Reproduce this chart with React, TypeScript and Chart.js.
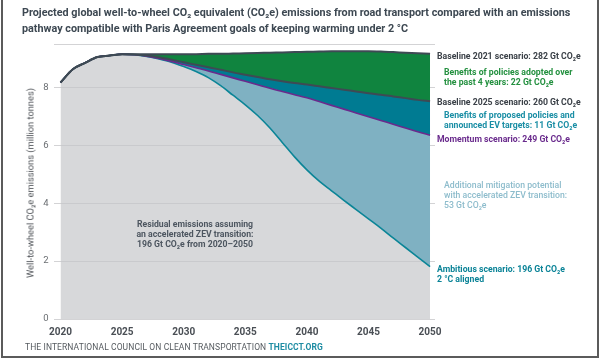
import React, { useEffect, useRef } from "react";
import { Chart, registerables } from "chart.js";

Chart.register(...registerables);

const years = [
  2020, 2021, 2022, 2023, 2024, 2025, 2026, 2027, 2028, 2029, 2030, 2031, 2032, 2033, 2034, 2035,
  2036, 2037, 2038, 2039, 2040, 2041, 2042, 2043, 2044, 2045, 2046, 2047, 2048, 2049, 2050,
];

const baseline2021 = [
  8.17, 8.63, 8.85, 9.05, 9.1, 9.15, 9.15, 9.15, 9.15, 9.15, 9.15, 9.15, 9.16, 9.16, 9.17, 9.18,
  9.19, 9.2, 9.21, 9.22, 9.23, 9.24, 9.25, 9.25, 9.25, 9.25, 9.24, 9.22, 9.2, 9.18, 9.16,
];

const baseline2025 = [
  8.17, 8.63, 8.85, 9.05, 9.1, 9.15, 9.14, 9.1, 9.04, 8.96, 8.87, 8.78, 8.7, 8.61, 8.52, 8.44,
  8.36, 8.28, 8.21, 8.15, 8.1, 8.04, 7.98, 7.92, 7.86, 7.8, 7.75, 7.69, 7.63, 7.57, 7.52,
];

const momentum = [
  8.17, 8.63, 8.85, 9.05, 9.1, 9.15, 9.13, 9.08, 9.0, 8.9, 8.79, 8.68, 8.57, 8.45, 8.33, 8.21,
  8.09, 7.97, 7.86, 7.75, 7.64, 7.51, 7.38, 7.25, 7.12, 6.99, 6.86, 6.73, 6.6, 6.47, 6.35,
];

const ambitious = [
  8.17, 8.63, 8.85, 9.05, 9.1, 9.15, 9.13, 9.07, 8.98, 8.87, 8.72, 8.55, 8.34, 8.06, 7.73, 7.4,
  7.03, 6.6, 6.1, 5.6, 5.15, 4.76, 4.43, 4.1, 3.78, 3.46, 3.14, 2.8, 2.47, 2.14, 1.81,
];

const xTicks = [2020, 2025, 2030, 2035, 2040, 2045, 2050];
const yTicks = [0, 2, 4, 6, 8];
const yMax = 9.5;

const FONT = "Roboto, 'Open Sans', sans-serif";

type Note = { text: string[]; x: number; y: number; color: string; weight: number; align?: "left" | "center" };

const notes: Note[] = [
  { text: ["Baseline 2021 scenario: 282 Gt CO₂e"], x: 437, y: 56, color: "#3b4148", weight: 700 },
  { text: ["Benefits of policies adopted over", "the past 4 years: 22 Gt CO₂e"], x: 444, y: 72, color: "#23903f", weight: 700 },
  { text: ["Baseline 2025 scenario: 260 Gt CO₂e"], x: 437, y: 102, color: "#3b4148", weight: 700 },
  { text: ["Benefits of proposed policies and", "announced EV targets: 11 Gt CO₂e"], x: 444, y: 115, color: "#1a8ea5", weight: 700 },
  { text: ["Momentum scenario: 249 Gt CO₂e"], x: 437, y: 139, color: "#6a2b8d", weight: 700 },
  { text: ["Additional mitigation potential", "with accelerated ZEV transition:", "53 Gt CO₂e"], x: 444, y: 185, color: "#8dbccc", weight: 500 },
  { text: ["Ambitious scenario: 196 Gt CO₂e", "2 °C aligned"], x: 437, y: 269, color: "#0a8397", weight: 700 },
  {
    text: ["Residual emissions assuming", "an accelerated ZEV transition:", "196 Gt CO₂e from 2020–2050"],
    x: 195, y: 224, color: "#4d5660", weight: 700, align: "center",
  },
];

export default function App() {
  const ref = useRef<HTMLCanvasElement>(null);

  useEffect(() => {
    document.body.style.margin = "0";
    const canvas = ref.current;
    if (!canvas) return;
    const mk = (arr: number[]) => years.map((x, i) => ({ x, y: arr[i] }));
    const chart = new Chart(canvas, {
      type: "line",
      data: {
        datasets: [
          { label: "Baseline 2021", data: mk(baseline2021), borderColor: "#3e4a54", borderWidth: 2, fill: "+1", backgroundColor: "#10843f" },
          { label: "Baseline 2025", data: mk(baseline2025), borderColor: "#3e4a54", borderWidth: 2, fill: "+1", backgroundColor: "#007b92" },
          { label: "Momentum", data: mk(momentum), borderColor: "#6a2a8c", borderWidth: 1.6, fill: "+1", backgroundColor: "#7fb1c2" },
          { label: "Ambitious", data: mk(ambitious), borderColor: "#0b8597", borderWidth: 1.6, fill: "origin", backgroundColor: "rgba(196,197,201,0.68)" },
        ],
      },
      options: {
        responsive: false,
        animation: false,
        layout: { padding: { left: 8, right: 169, top: 44, bottom: 23 } },
        elements: { point: { radius: 0 }, line: { cubicInterpolationMode: "monotone" } },
        plugins: {
          legend: { display: false },
          tooltip: { enabled: false },
          filler: { propagate: false, drawTime: "beforeDatasetsDraw" },
        },
        scales: {
          x: {
            type: "linear",
            min: 2019.43,
            max: 2050.4,
            afterBuildTicks: (s: any) => {
              s.ticks = xTicks.map((v) => ({ value: v }));
            },
            afterFit: (s: any) => {
              s.height = 20;
            },
            grid: { display: false, drawTicks: false },
            border: { display: false },
            ticks: {
              padding: 7,
              color: "#4a4f55",
              font: { family: FONT, size: 10, weight: "bold" },
              callback: (v: any) => String(v),
              maxRotation: 0,
            },
          },
          y: {
            min: 0,
            max: yMax,
            afterBuildTicks: (s: any) => {
              s.ticks = [...yTicks, yMax].map((v) => ({ value: v }));
            },
            afterFit: (s: any) => {
              s.width = 45.5;
            },
            grid: { color: "#d3d3d5", drawTicks: false, lineWidth: 1 },
            border: { display: false },
            ticks: {
              padding: 5,
              color: "#6a6e72",
              font: { family: FONT, size: 9.5 },
              callback: (v: any) => (yTicks.includes(Number(v)) ? String(v) : ""),
            },
          },
        },
      },
    });
    return () => chart.destroy();
  }, []);

  return (
    <div style={{ position: "fixed", left: 0, top: 0, width: 604, height: 362, background: "#fff", overflow: "hidden", fontFamily: FONT }}>
      <div style={{ position: "absolute", left: 1, top: -10, width: 598, height: 368, border: "2px solid #5b5b5b", boxSizing: "border-box" }} />
      <canvas ref={ref} width={604} height={362} style={{ position: "absolute", left: 0, top: 0, width: 604, height: 362 }} />
      <div style={{ position: "absolute", left: 22, top: 5, fontSize: 10.8, lineHeight: "16px", fontWeight: 700, color: "#3d4852", whiteSpace: "nowrap" }}>
        <div>Projected global well-to-wheel CO₂ equivalent (CO₂e) emissions from road transport compared with an emissions</div>
        <div>pathway compatible with Paris Agreement goals of keeping warming under 2 °C</div>
      </div>
      <div
        style={{
          position: "absolute", left: 30, top: 183, transform: "translate(-50%, -50%) rotate(-90deg)",
          fontSize: 9.3, color: "#4e5257", whiteSpace: "nowrap",
        }}
      >
        Well-to-wheel CO₂e emissions (million tonnes)
      </div>
      {notes.map((n, i) => (
        <div
          key={i}
          style={{
            position: "absolute",
            left: n.x,
            top: n.y - 5,
            transform: n.align === "center" ? "translateX(-50%)" : undefined,
            textAlign: n.align ?? "left",
            fontSize: 8.7,
            lineHeight: "10px",
            fontWeight: n.weight,
            color: n.color,
            whiteSpace: "nowrap",
          }}
        >
          {n.text.map((t, j) => (
            <div key={j}>{t}</div>
          ))}
        </div>
      ))}
      <div style={{ position: "absolute", left: 25, top: 342, fontSize: 8.5, lineHeight: "10px", letterSpacing: 0.1, color: "#555a5f", whiteSpace: "nowrap" }}>
        THE INTERNATIONAL COUNCIL ON CLEAN TRANSPORTATION <span style={{ fontWeight: 700, color: "#1e8ca3" }}>THEICCT.ORG</span>
      </div>
    </div>
  );
}
